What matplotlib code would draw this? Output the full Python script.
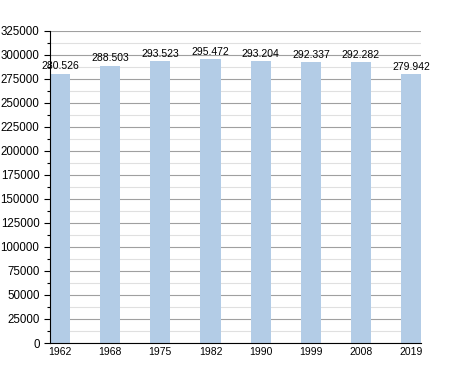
import matplotlib
matplotlib.use("Agg")
import matplotlib.pyplot as plt
from matplotlib.ticker import MultipleLocator

plt.rcParams['font.family'] = ['Liberation Sans', 'DejaVu Sans']

years = ['1962', '1968', '1975', '1982', '1990', '1999', '2008', '2019']
population = [280526, 288503, 293523, 295472, 293204, 292337, 292282, 279942]
value_labels = ['280.526', '288.503', '293.523', '295.472', '293.204', '292.337', '292.282', '279.942']

fig = plt.figure(figsize=(4.5, 3.73), dpi=100)
ax = fig.add_axes([0.111, 0.0804, 0.825, 0.837])

x = range(len(years))
ax.bar(x, population, width=0.4, color='#b3cce6', zorder=2)
for i, (v, lab) in enumerate(zip(population, value_labels)):
    ax.text(i, v + 2500, lab, ha='center', va='bottom', fontsize=7.5, zorder=3)

ax.set_xlim(-0.2, 7.2)
ax.set_ylim(0, 325000)
ax.set_xticks(list(x))
ax.set_xticklabels(years, fontsize=7.5)
ax.yaxis.set_major_locator(MultipleLocator(25000))
ax.yaxis.set_minor_locator(MultipleLocator(12500))
ax.tick_params(axis='y', labelsize=8.3, length=4, width=0.8)
ax.tick_params(axis='y', which='minor', length=2.5, width=0.8)
ax.tick_params(axis='x', length=0, pad=3)

ax.grid(axis='y', which='major', color='#a0a0a0', linewidth=0.8, zorder=0)
ax.grid(axis='y', which='minor', color='#e0e0e0', linewidth=0.8, zorder=0)
ax.set_axisbelow(True)

for s in ['top', 'right']:
    ax.spines[s].set_visible(False)

plt.savefig('out.png', dpi=100)
